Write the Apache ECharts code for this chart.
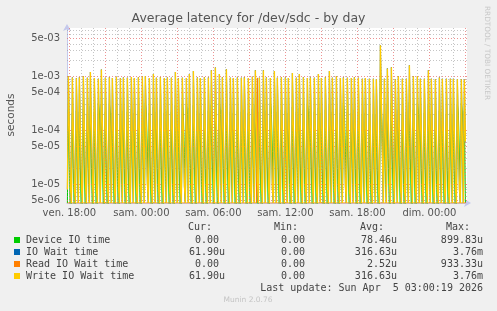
<!DOCTYPE html>
<html><head><meta charset="utf-8">
<script src="https://cdn.jsdelivr.net/npm/echarts@6/dist/echarts.min.js"></script>
<style>html,body{margin:0;padding:0;background:#f0f0f0}#c{width:497px;height:311px}</style>
</head><body><div id="c"></div>
<script>
// ---- data (µs), one value per 5-minute sample starting Fri 17:50 ----
const T0 = 1070;   // minutes from Friday 00:00
const STEP = 5;
const writeIO = [
  8,
  1000,92,9,0, 950,85,8,0, 920,74,0,
  960,90,9,0, 1000,98,10,0, 940,70,0,
  1200,110,11,0, 930,86,8,0, 900,66,0,
  1330,120,12,0, 940,88,9,0, 960,72,0,
  930,84,8,0, 980,93,9,0, 920,68,0,
  950,89,9,0, 940,87,8,0, 970,73,0,
  930,85,8,0, 960,91,9,0, 990,75,0,
  1000,95,10,0, 930,86,8,0, 1100,82,0,
  940,88,9,0, 960,90,9,0, 930,69,0,
  950,89,9,0, 940,86,8,0, 1200,90,0,
  920,84,8,0, 940,88,9,0, 930,70,0,
  1100,102,10,0, 1250,115,11,0, 950,71,0,
  930,85,8,0, 960,90,9,0, 950,72,0,
  1300,118,12,0, 1450,130,13,0, 1100,82,0,
  960,90,9,0, 1350,122,12,0, 940,70,0,
  930,86,8,0, 950,89,9,0, 940,71,0,
  960,91,9,0, 930,85,8,0, 980,74,0,
  1300,118,12,0, 940,87,9,0, 1300,96,0,
  950,89,9,0, 930,85,8,0, 1250,93,0,
  940,87,9,0, 960,90,9,0, 950,72,0,
  930,85,8,0, 1150,106,10,0, 940,70,0,
  1100,101,10,0, 960,90,9,0, 930,69,0,
  950,88,9,0, 940,87,8,0, 1100,83,0,
  930,86,8,0, 960,91,9,0, 1250,94,0,
  940,87,9,0, 1000,94,9,0, 930,70,0,
  950,89,9,0, 940,86,8,0, 930,69,0,
  960,90,9,0, 940,87,8,0, 900,67,0,
  930,85,8,0, 900,83,8,0, 900,66,0,
  880,81,8,0, 3760,340,32,0, 900,67,0,
  1400,127,12,0, 1470,134,13,0, 880,65,0,
  1000,93,9,0, 900,83,8,0, 900,67,0,
  1600,145,14,0, 1000,93,9,0, 1000,74,0,
  900,84,8,0, 900,83,8,0, 1300,97,0,
  900,83,8,0, 880,81,8,0, 950,71,0,
  900,84,8,0, 900,83,8,0, 900,67,0,
  900,83,8,0, 880,81,8,0, 880,65,0,
  870, 61.9
];
const ioWait = writeIO.slice(); // identical to write wait (no reads except one)
const deviceIO = [
  0,
  240,22,2,0, 210,20,2,0, 230,21,0,
  220,20,2,0, 250,23,2,0, 200,19,0,
  280,25,3,0, 210,19,2,0, 320,210,0,
  300,27,3,0, 220,20,2,0, 310,190,0,
  210,19,2,0, 240,22,2,0, 200,18,0,
  230,21,2,0, 220,20,2,0, 250,23,0,
  210,19,2,0, 230,21,2,0, 260,24,0,
  320,200,40,0, 210,19,2,0, 270,25,0,
  220,20,2,0, 240,22,2,0, 210,19,0,
  230,21,2,0, 220,20,2,0, 290,26,0,
  200,18,2,0, 300,180,36,0, 310,200,0,
  260,24,2,0, 290,26,3,0, 230,21,0,
  210,19,2,0, 240,22,2,0, 230,21,0,
  300,27,3,0, 330,30,3,0, 320,210,0,
  240,22,2,0, 310,28,3,0, 220,20,0,
  210,19,2,0, 230,21,2,0, 220,20,0,
  240,22,2,0, 210,19,2,0, 250,23,0,
  300,27,3,0, 220,20,2,0, 300,27,0,
  230,21,2,0, 320,200,40,0, 290,26,0,
  220,20,2,0, 240,22,2,0, 230,21,0,
  210,19,2,0, 270,25,2,0, 220,20,0,
  260,24,2,0, 240,22,2,0, 310,200,0,
  230,21,2,0, 220,20,2,0, 260,24,0,
  210,19,2,0, 240,22,2,0, 290,26,0,
  220,20,2,0, 250,23,2,0, 210,19,0,
  320,210,42,0, 220,20,2,0, 210,19,0,
  240,22,2,0, 220,20,2,0, 200,18,0,
  210,19,2,0, 200,18,2,0, 200,18,0,
  200,18,2,0, 899.83,260,50,0, 200,18,0,
  310,28,3,0, 320,29,3,0, 200,18,0,
  240,22,2,0, 200,18,2,0, 210,19,0,
  330,30,3,0, 240,22,2,0, 320,210,0,
  200,18,2,0, 210,19,2,0, 290,26,0,
  200,18,2,0, 200,18,2,0, 230,21,0,
  210,19,2,0, 200,18,2,0, 210,19,0,
  200,18,2,0, 300,190,38,0, 320,200,0,
  230, 0
];
const readSpikes = [[190, 933.33]]; // [sample index, µs]; all other samples are 0

const xTickValues = [1080, 1440, 1800, 2160, 2520, 2880];
const xTickLabels = ['ven. 18:00', 'sam. 00:00', 'sam. 06:00', 'sam. 12:00', 'sam. 18:00', 'dim. 00:00'];
const yTickValues = [5e-6, 1e-5, 5e-5, 1e-4, 5e-4, 1e-3, 5e-3];
const yTickLabels = ['5e-06', '1e-05', '5e-05', '1e-04', '5e-04', '1e-03', '5e-03'];

const names  = ['Device IO time', 'IO Wait time', 'Read IO Wait time', 'Write IO Wait time'];
const colors = ['#00cc00', '#0066b3', '#ff8000', '#ffcc00'];
const statCur = ['0.00 ', '61.90u', '0.00 ', '61.90u'];
const statMin = ['0.00 ', '0.00 ', '0.00 ', '0.00 '];
const statAvg = ['78.46u', '316.63u', '2.52u', '316.63u'];
const statMax = ['899.83u', '3.76m', '933.33u', '3.76m'];

// ---- rendering ----
const XMIN = 1068, XMAX = 3068;
const YMIN = 4.51e-6, YMAX = 7.84e-3;
const readIO = writeIO.map(() => 0);
readSpikes.forEach(([k, v]) => { readIO[k] = v; });

function toSeries(arr) {
  return arr.map((v, k) => [T0 + STEP * k, v > 0 ? v * 1e-6 : YMIN]);
}

const gridH = [], gridV = [];
const minorStyle = { color: 'rgba(150,150,150,0.55)', width: 1, type: [1, 2] };
const majorStyle = { color: 'rgba(230,100,100,0.7)', width: 1, type: [1, 2] };
for (let e = -6; e <= -3; e++) {
  for (let m = 1; m <= 9; m++) {
    const v = m * Math.pow(10, e);
    if (v > YMIN && v < YMAX) gridH.push({ yAxis: Math.log10(v), lineStyle: (m === 1 || m === 5) ? majorStyle : minorStyle });
  }
}
for (let t = 1080; t < XMAX; t += 60) {
  gridV.push({ xAxis: t, lineStyle: ((t - 1080) % 180 === 0) ? majorStyle : minorStyle });
}

const FONT = '"DejaVu Sans", sans-serif';
const MONO = '"DejaVu Sans Mono", monospace';

const graphics = [];
function txt(x, y, s, opt) {
  graphics.push(Object.assign({
    type: 'text', x: x, y: y, silent: true,
    style: Object.assign({ text: s, fill: '#444', font: '10px ' + MONO, textAlign: 'left', align: 'left', textVerticalAlign: 'middle', verticalAlign: 'middle' }, opt || {})
  }));
}
txt(248.5, 19, 'Average latency for /dev/sdc - by day', { font: '12.5px ' + FONT, fill: '#555', textAlign: 'center', align: 'center' });
graphics.push({ type: 'text', x: 11, y: 115, rotation: Math.PI / 2, silent: true,
  style: { text: 'seconds', fill: '#555', font: '10.5px ' + FONT, textAlign: 'center', align: 'center', textVerticalAlign: 'middle', verticalAlign: 'middle' } });
graphics.push({ type: 'text', x: 487, y: 53, rotation: -Math.PI / 2, silent: true,
  style: { text: 'RRDTOOL / TOBI OETIKER', fill: '#c8c8c8', font: '7.3px ' + FONT, textAlign: 'center', align: 'center', textVerticalAlign: 'middle', verticalAlign: 'middle' } });

const colRight = [225, 311, 397, 483];
const heads = ['Cur:', 'Min:', 'Avg:', 'Max:'];
heads.forEach((h, i) => txt(colRight[i] - 13, 227.7, h, { textAlign: 'right', align: 'right' }));
const rowsY = [240, 252, 264, 276];
names.forEach((n, i) => {
  graphics.push({ type: 'rect', silent: true, shape: { x: 14, y: rowsY[i] - 3, width: 6, height: 6 }, style: { fill: colors[i] } });
  txt(26, rowsY[i], n);
  [statCur, statMin, statAvg, statMax].forEach((arr, c) => txt(colRight[c], rowsY[i], arr[i], { textAlign: 'right', align: 'right' }));
});
txt(483, 288, 'Last update: Sun Apr  5 03:00:19 2026', { textAlign: 'right', align: 'right' });
txt(248, 300.5, 'Munin 2.0.76', { font: '7.5px ' + FONT, fill: '#c4c4c4', textAlign: 'center', align: 'center' });

const axisColor = '#c4c8ec';
const lineWidths = [1, 1, 1, 1.3];
const chart = echarts.init(document.getElementById('c'), null, { renderer: 'canvas' });
const dataSeries = [deviceIO, ioWait, readIO, writeIO].map((arr, i) => ({
  name: names[i], type: 'line', data: toSeries(arr), showSymbol: false, symbol: 'none',
  clip: true, z: 3 + i, animation: false, yAxisIndex: 0,
  lineStyle: { color: colors[i], width: lineWidths[i] }
}));

chart.setOption({
  backgroundColor: '#f0f0f0',
  animation: false,
  grid: { left: 67, top: 28, width: 400, height: 175, show: true, backgroundColor: '#ffffff', borderWidth: 0 },
  xAxis: {
    type: 'value', min: XMIN, max: XMAX,
    axisLine: { show: true, lineStyle: { color: axisColor, width: 1 }, symbol: ['none', 'arrow'], symbolSize: [6, 7], symbolOffset: [0, 4] },
    axisTick: { show: false },
    splitLine: { show: false },
    axisLabel: { customValues: xTickValues, formatter: v => xTickLabels[xTickValues.indexOf(v)] || '', color: '#555', fontFamily: FONT, fontSize: 10, margin: 5 }
  },
  yAxis: [{
    type: 'log', logBase: 10, min: YMIN, max: YMAX,
    axisLine: { show: true, lineStyle: { color: axisColor, width: 1 }, symbol: ['none', 'arrow'], symbolSize: [6, 7], symbolOffset: [0, 4] },
    axisTick: { show: false },
    splitLine: { show: false },
    minorSplitLine: { show: false },
    axisLabel: {
      customValues: yTickValues,
      formatter: v => { let best = 0; yTickValues.forEach((t, i) => { if (Math.abs(Math.log10(t) - Math.log10(v)) < Math.abs(Math.log10(yTickValues[best]) - Math.log10(v))) best = i; }); return yTickLabels[best]; },
      color: '#555', fontFamily: FONT, fontSize: 10, margin: 7
    }
  }, {
    // helper linear axis in log10 units, used only to place the dotted grid
    type: 'value', min: Math.log10(YMIN), max: Math.log10(YMAX), show: false,
    splitLine: { show: false }
  }],
  series: [{
    name: 'grid', type: 'line', data: [], z: 1, silent: true, yAxisIndex: 1,
    markLine: { silent: true, symbol: ['none', 'none'], animation: false, label: { show: false }, emphasis: { disabled: true }, data: gridH.concat(gridV) }
  }].concat(dataSeries),
  graphic: graphics
});
</script></body></html>
